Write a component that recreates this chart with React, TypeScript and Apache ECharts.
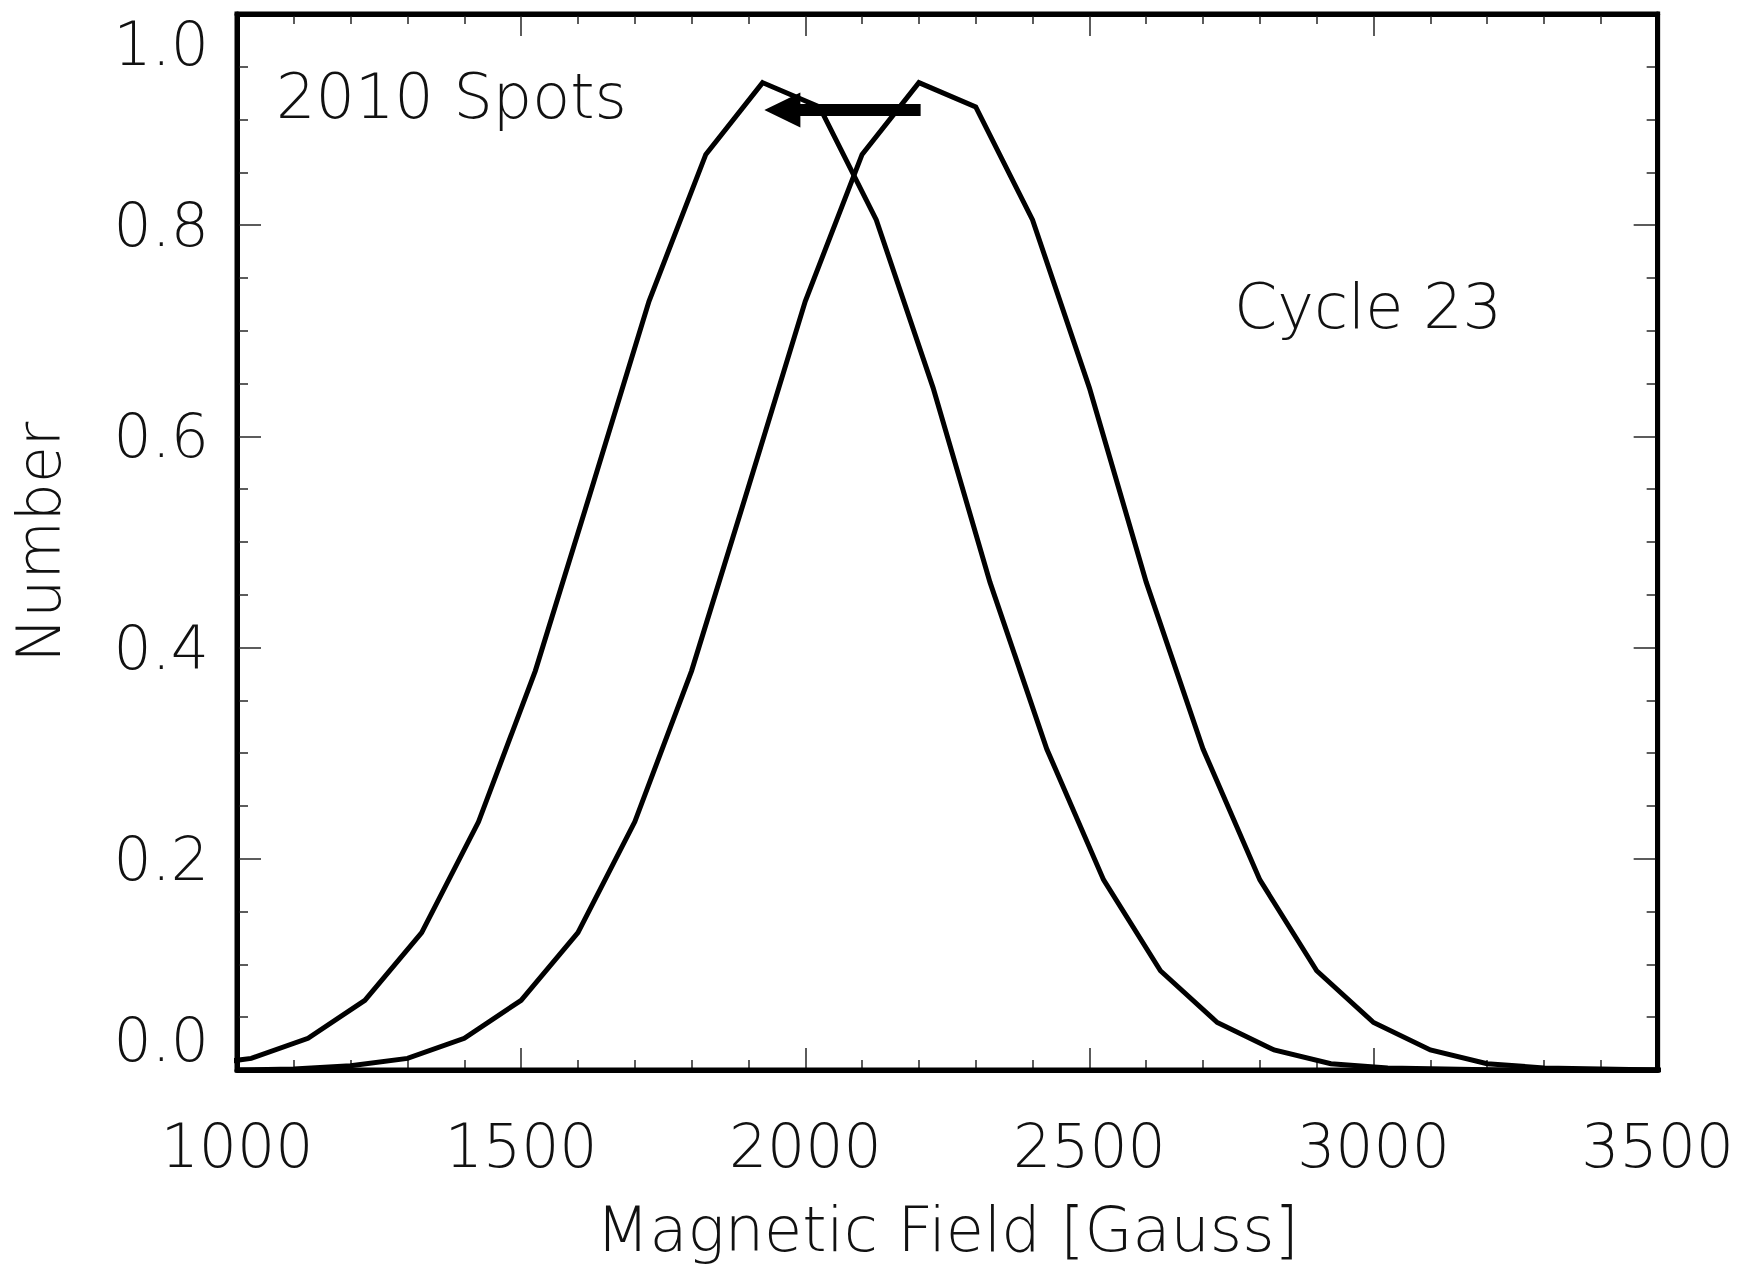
import React, { useEffect, useRef } from 'react';
import * as echarts from 'echarts';

// Curve of 2010 spots (shifted to lower field strengths)
const field2010 = [925, 1025, 1125, 1225, 1325, 1425, 1525, 1625, 1725, 1825, 1925, 2025, 2125, 2225, 2325, 2425, 2525, 2625, 2725, 2825, 2925, 3025, 3125, 3225, 3325, 3425, 3525];
const number2010 = [0.004, 0.011, 0.030, 0.066, 0.130, 0.235, 0.378, 0.552, 0.728, 0.867, 0.935, 0.912, 0.805, 0.646, 0.462, 0.304, 0.180, 0.094, 0.045, 0.019, 0.006, 0.002, 0.001, 0.000, 0.000, 0.000, 0.000];

// Curve of Cycle 23 spots
const fieldCycle23 = [1000, 1100, 1200, 1300, 1400, 1500, 1600, 1700, 1800, 1900, 2000, 2100, 2200, 2300, 2400, 2500, 2600, 2700, 2800, 2900, 3000, 3100, 3200, 3300, 3400, 3500];
const numberCycle23 = [0.000, 0.001, 0.004, 0.011, 0.030, 0.066, 0.130, 0.235, 0.378, 0.552, 0.728, 0.867, 0.935, 0.912, 0.805, 0.646, 0.462, 0.304, 0.180, 0.094, 0.045, 0.019, 0.006, 0.002, 0.001, 0.000];

// Arrow: from Cycle 23 peak towards 2010 peak
const arrowFrom = [2203, 0.909];
const arrowTo = [1928, 0.909];

const FONT = '"DejaVu Sans", "Noto Sans", sans-serif';
const FONT_SIZE = 60;
const FONT_WEIGHT = 200;

export default function App() {
  const ref = useRef<HTMLDivElement>(null);

  useEffect(() => {
    if (!ref.current) return;
    const chart = echarts.init(ref.current, undefined, { renderer: 'svg' });

    const tickStyle = { color: '#333', width: 1.6 };
    const frameLine = { show: true, onZero: false, lineStyle: { color: '#000', width: 5 } };
    const labelText = { color: '#111', fontFamily: FONT, fontSize: FONT_SIZE, fontWeight: FONT_WEIGHT };

    const xBase = {
      type: 'value',
      min: 1000,
      max: 3500,
      interval: 500,
      splitLine: { show: false },
      axisLine: frameLine,
      axisTick: { show: true, inside: true, length: 22, lineStyle: tickStyle },
      minorTick: { show: true, splitNumber: 5, length: 10, lineStyle: tickStyle },
    };
    const yBase = {
      type: 'value',
      min: 0,
      max: 1,
      interval: 0.2,
      splitLine: { show: false },
      axisLine: frameLine,
      axisTick: { show: true, inside: true, length: 24, lineStyle: tickStyle },
      minorTick: { show: true, splitNumber: 4, length: 11, lineStyle: tickStyle },
    };

    const lineStyle = { color: '#000', width: 5, join: 'miter' };

    chart.setOption({
      animation: false,
      backgroundColor: '#fff',
      grid: {
        left: 237,
        top: 14,
        width: 1421,
        height: 1056,
        containLabel: false,
        show: true,
        borderColor: '#000',
        borderWidth: 5,
        backgroundColor: 'transparent',
        z: 20,
      },
      xAxis: [
        {
          ...xBase,
          position: 'bottom',
          axisLabel: { ...labelText, margin: 46, formatter: (v: number) => String(v) },
          name: 'Magnetic Field [Gauss]',
          nameLocation: 'middle',
          nameGap: 128,
          nameTextStyle: { ...labelText, fontSize: 62 },
        },
        { ...xBase, position: 'top', axisLabel: { show: false } },
      ],
      yAxis: [
        {
          ...yBase,
          position: 'left',
          axisLabel: {
            ...labelText,
            margin: 28,
            formatter: (v: number) => v.toFixed(1),
            verticalAlignMaxLabel: 'top',
            verticalAlignMinLabel: 'bottom',
          },
          name: 'Number',
          nameLocation: 'middle',
          nameGap: 168,
          nameRotate: 90,
          nameTextStyle: { ...labelText },
        },
        { ...yBase, position: 'right', axisLabel: { show: false } },
      ],
      graphic: [
        {
          type: 'text',
          x: 276,
          y: 96,
          style: { text: '2010 Spots', fill: '#111', fontFamily: FONT, fontSize: 62, fontWeight: FONT_WEIGHT, align: 'left', verticalAlign: 'middle' },
        },
        {
          type: 'text',
          x: 1234,
          y: 306,
          style: { text: 'Cycle 23', fill: '#111', fontFamily: FONT, fontSize: 62, fontWeight: FONT_WEIGHT, align: 'left', verticalAlign: 'middle' },
        },
      ],
      series: [
        {
          name: '2010 Spots',
          type: 'line',
          xAxisIndex: 0,
          yAxisIndex: 0,
          data: field2010.map((x, i) => [x, number2010[i]]),
          showSymbol: false,
          symbol: 'none',
          lineStyle,
          clip: true,
          z: 5,
        },
        {
          name: 'Cycle 23',
          type: 'line',
          xAxisIndex: 0,
          yAxisIndex: 0,
          data: fieldCycle23.map((x, i) => [x, numberCycle23[i]]),
          showSymbol: false,
          symbol: 'none',
          lineStyle,
          clip: true,
          z: 5,
        },
        {
          name: 'shift',
          type: 'custom',
          xAxisIndex: 0,
          yAxisIndex: 0,
          data: [[arrowFrom[0], arrowFrom[1], arrowTo[0], arrowTo[1]]],
          encode: { x: [0, 2], y: [1, 3] },
          z: 10,
          renderItem: (params: any, api: any) => {
            const s = api.coord([api.value(0), api.value(1)]);
            const e = api.coord([api.value(2), api.value(3)]);
            const headLen = 36;
            const headHalf = 17.5;
            const shaft = 12;
            return {
              type: 'group',
              children: [
                {
                  type: 'rect',
                  shape: { x: e[0] + headLen - 1, y: s[1] - shaft / 2, width: s[0] - e[0] - headLen + 1, height: shaft },
                  style: { fill: '#000' },
                },
                {
                  type: 'polygon',
                  shape: { points: [[e[0], e[1]], [e[0] + headLen, e[1] - headHalf], [e[0] + headLen, e[1] + headHalf]] },
                  style: { fill: '#000' },
                },
              ],
            };
          },
        },
      ],
    });

    return () => chart.dispose();
  }, []);

  return (
    <div
      ref={ref}
      style={{ position: 'fixed', left: 0, top: 0, width: 1737, height: 1266, background: '#fff' }}
    />
  );
}
